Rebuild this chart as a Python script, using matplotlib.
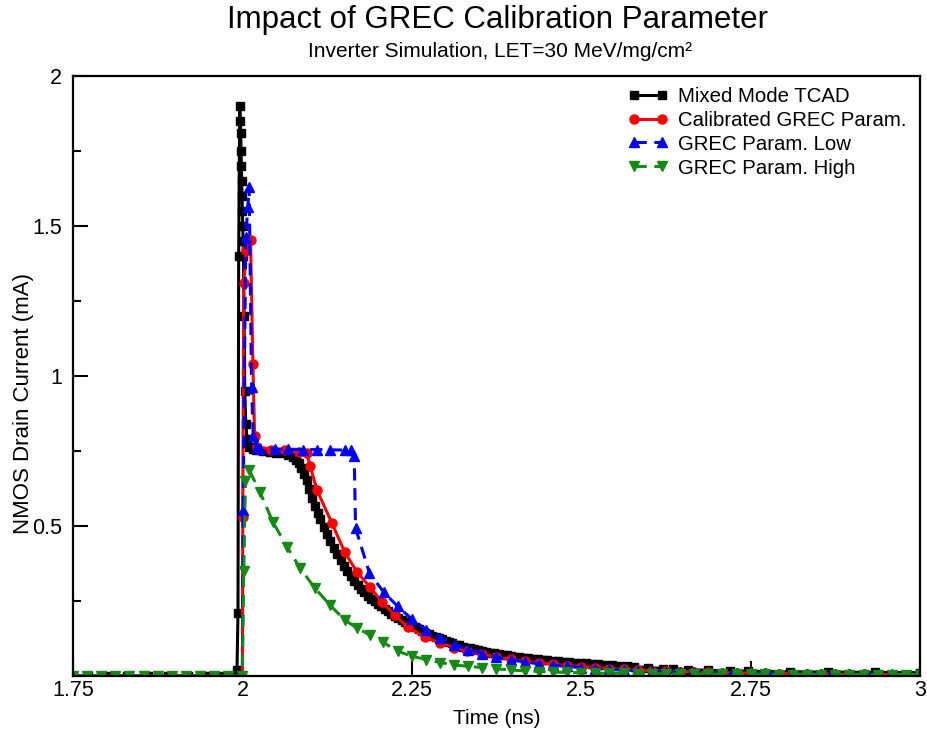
import matplotlib
matplotlib.use("Agg")
import matplotlib.pyplot as plt
import numpy as np
from matplotlib.ticker import MultipleLocator

plt.rcParams['font.family'] = ['Liberation Sans', 'DejaVu Sans']

# shared time grid of the GREC runs (before the strike and in the tail)
t_pre = [1.75, 1.7708, 1.7917, 1.8125, 1.8333, 1.8542, 1.875, 1.8958,
         1.9167, 1.9375, 1.9583, 1.9792, 2.0]
t_tail = [2.3542, 2.375, 2.3958, 2.4167, 2.4375, 2.4583, 2.4792, 2.5,
          2.5208, 2.5417, 2.5625, 2.5833, 2.6042, 2.625, 2.6458, 2.6667,
          2.6875, 2.7083, 2.7292, 2.75, 2.7708, 2.7917, 2.8125, 2.8333,
          2.8542, 2.875, 2.8958, 2.9167, 2.9375, 2.9583, 2.9792, 3.0]

# Mixed Mode TCAD
t_tcad = [1.75, 1.772, 1.80, 1.83, 1.86, 1.89, 1.92, 1.945, 1.965, 1.98, 1.99, 1.992,
          1.9935, 1.9945, 1.996, 1.997, 1.9975, 1.998, 1.9985, 1.999, 1.9995, 2.0,
          2.0005, 2.001, 2.0015, 2.0025, 2.0035, 2.005, 2.007, 2.01, 2.015, 2.02,
          2.03, 2.04, 2.05, 2.06, 2.068, 2.074, 2.079, 2.083, 2.087, 2.091, 2.095,
          2.099, 2.103, 2.107, 2.111, 2.115, 2.12, 2.125, 2.13, 2.135, 2.14, 2.145,
          2.15, 2.155, 2.16, 2.165, 2.17, 2.175, 2.18, 2.185, 2.19, 2.195, 2.2,
          2.205, 2.21, 2.215, 2.22, 2.225, 2.23, 2.235, 2.24, 2.245, 2.25, 2.255,
          2.26, 2.265, 2.27, 2.275, 2.28, 2.285, 2.29, 2.295, 2.3, 2.305, 2.31,
          2.315, 2.32, 2.325, 2.33, 2.336, 2.342, 2.348, 2.354, 2.36, 2.366, 2.372,
          2.378, 2.384, 2.39, 2.396, 2.402, 2.408, 2.415, 2.422, 2.429, 2.436, 2.443,
          2.45, 2.458, 2.466, 2.474, 2.482, 2.49, 2.498, 2.507, 2.516, 2.525, 2.535,
          2.545, 2.556, 2.567, 2.578, 2.599, 2.62, 2.636, 2.658, 2.687, 2.72, 2.746,
          2.808, 2.864, 2.934, 3.0]
i_tcad = [0, 0, 0, 0, 0, 0, 0, 0, 0, 0, 0, 0.02,
          0.21, 1.40, 1.90, 1.85, 1.81, 1.75, 1.70, 1.65, 1.60, 1.55,
          1.50, 1.45, 1.40, 1.20, 0.95, 0.84, 0.79, 0.765, 0.757, 0.755,
          0.751, 0.748, 0.745, 0.742, 0.737, 0.73, 0.72, 0.71, 0.695, 0.675, 0.653,
          0.625, 0.595, 0.567, 0.545, 0.525, 0.498, 0.473, 0.45, 0.428, 0.407, 0.386,
          0.367, 0.349, 0.333, 0.318, 0.304, 0.291, 0.279, 0.268, 0.258, 0.249, 0.24,
          0.232, 0.224, 0.216, 0.208, 0.201, 0.194, 0.187, 0.18, 0.174, 0.168, 0.162,
          0.156, 0.15, 0.145, 0.14, 0.135, 0.13, 0.126, 0.122, 0.117, 0.113, 0.109,
          0.105, 0.102, 0.098, 0.095, 0.092, 0.089, 0.086, 0.083, 0.08, 0.078, 0.076,
          0.073, 0.071, 0.069, 0.067, 0.065, 0.063, 0.061, 0.059, 0.058, 0.056, 0.054,
          0.053, 0.051, 0.049, 0.048, 0.046, 0.045, 0.044, 0.042, 0.041, 0.039, 0.038,
          0.036, 0.035, 0.033, 0.031, 0.028, 0.025, 0.023, 0.021, 0.019, 0.017, 0.016,
          0.014, 0.013, 0.012, 0.011]

# Calibrated GREC Param.
t_cal_mid = [2.0005, 2.002, 2.006, 2.012, 2.0155, 2.018, 2.021, 2.0417, 2.0625,
             2.0833, 2.095, 2.1, 2.11, 2.132, 2.151, 2.169, 2.188, 2.206, 2.225,
             2.244, 2.269, 2.292, 2.313, 2.331]
i_cal_mid = [0.53, 1.31, 1.42, 1.455, 1.04, 0.80, 0.765, 0.755, 0.752,
             0.748, 0.743, 0.70, 0.62, 0.51, 0.413, 0.347, 0.297, 0.247, 0.203,
             0.163, 0.13, 0.11, 0.095, 0.082]
i_cal_tail = [0.072, 0.063, 0.056, 0.049, 0.044, 0.039, 0.035, 0.031,
              0.028, 0.025, 0.022, 0.02, 0.018, 0.016, 0.015, 0.013,
              0.012, 0.011, 0.01, 0.01, 0.009, 0.008, 0.008, 0.007,
              0.007, 0.006, 0.006, 0.006, 0.005, 0.005, 0.005, 0.005]

# GREC Param. Low
t_low_mid = [2.001, 2.005, 2.008, 2.01, 2.0135, 2.016, 2.021, 2.026, 2.048, 2.067,
             2.089, 2.11, 2.129, 2.151, 2.16, 2.165, 2.167, 2.1875, 2.2083, 2.2292,
             2.25, 2.2708, 2.2917, 2.3125, 2.3333]
i_low_mid = [0.553, 1.464, 1.564, 1.63, 0.964, 0.80, 0.762, 0.758, 0.757, 0.756,
             0.755, 0.755, 0.754, 0.753, 0.752, 0.735, 0.493, 0.343, 0.28, 0.232,
             0.19, 0.155, 0.128, 0.105, 0.088]
i_low_tail = [0.075, 0.064, 0.055, 0.047, 0.041, 0.036, 0.032, 0.028,
              0.025, 0.022, 0.02, 0.018, 0.016, 0.015, 0.013, 0.012,
              0.011, 0.011, 0.01, 0.009, 0.009, 0.008, 0.008, 0.007,
              0.007, 0.007, 0.006, 0.006, 0.006, 0.006, 0.005, 0.005]

# GREC Param. High
t_high_mid = [2.002, 2.0045, 2.01, 2.026, 2.045, 2.066, 2.085, 2.107, 2.129, 2.151,
              2.169, 2.188, 2.208, 2.229, 2.25, 2.271, 2.292, 2.3125, 2.3333]
i_high_mid = [0.35, 0.65, 0.687, 0.613, 0.513, 0.43, 0.36, 0.293, 0.237, 0.187,
              0.16, 0.137, 0.112, 0.083, 0.066, 0.055, 0.045, 0.037, 0.032]
i_high_tail = [0.028, 0.024, 0.02, 0.017, 0.015, 0.013, 0.012, 0.011,
               0.01, 0.009, 0.009, 0.008, 0.008, 0.007, 0.007, 0.007,
               0.006, 0.006, 0.006, 0.006, 0.006, 0.005, 0.005, 0.005,
               0.005, 0.005, 0.005, 0.005, 0.005, 0.005, 0.005, 0.005]

zeros_pre = [0.0] * len(t_pre)

fig = plt.figure(figsize=(9.27, 7.32), dpi=100)
ax = fig.add_axes([73 / 927, 1 - 676 / 732, 847 / 927, 600 / 732])

lw = 2.2
ax.plot(t_tcad, i_tcad, '-', color='black', lw=lw, marker='s', ms=6.3,
        label='Mixed Mode TCAD')
ax.plot(t_pre + t_cal_mid + t_tail, zeros_pre + i_cal_mid + i_cal_tail, '-',
        color='#ff0000', lw=lw, marker='o', ms=6.5, label='Calibrated GREC Param.')
ax.plot(t_pre + t_low_mid + t_tail, zeros_pre + i_low_mid + i_low_tail,
        color='#0000ff', lw=lw, dashes=(4, 2.5), marker='^', ms=7,
        label='GREC Param. Low')
ax.plot(t_pre + t_high_mid + t_tail, zeros_pre + i_high_mid + i_high_tail,
        color='#148c14', lw=lw, dashes=(4, 2.5), marker='v', ms=7,
        label='GREC Param. High')

ax.set_xlim(1.75, 3.0)
ax.set_ylim(0, 2.0)
ax.set_xticks([1.75, 2.0, 2.25, 2.5, 2.75, 3.0])
ax.set_xticklabels(['1.75', '2', '2.25', '2.5', '2.75', '3'])
ax.set_yticks([0.5, 1.0, 1.5, 2.0])
ax.set_yticklabels(['0.5', '1', '1.5', '2'])
ax.yaxis.set_minor_locator(MultipleLocator(0.25))
ax.tick_params(axis='both', which='both', direction='in', top=False, right=False,
               labelsize=15.5, width=1.5)
ax.tick_params(axis='x', which='major', length=11, pad=3)
ax.tick_params(axis='y', which='major', length=11, pad=8)
ax.tick_params(axis='y', which='minor', length=6)
for s in ax.spines.values():
    s.set_linewidth(1.6)

ax.set_xlabel('Time (ns)', fontsize=15, labelpad=6)
ax.set_ylabel('NMOS Drain Current (mA)', fontsize=16)
ax.yaxis.set_label_coords(-0.046, 0.455)

fig.text(0.537, 0.972, 'Impact of GREC Calibration Parameter', fontsize=22.5,
         ha='center', va='center')
fig.text(0.539, 0.929, 'Inverter Simulation, LET=30 MeV/mg/cm²', fontsize=15,
         ha='center', va='center')

ax.legend(loc='upper left', bbox_to_anchor=(0.655, 0.982), frameon=False,
          fontsize=14.7, numpoints=2, handlelength=2.0, handletextpad=0.45,
          labelspacing=0.24, borderpad=0, borderaxespad=0)

fig.savefig('out.png', dpi=100)
